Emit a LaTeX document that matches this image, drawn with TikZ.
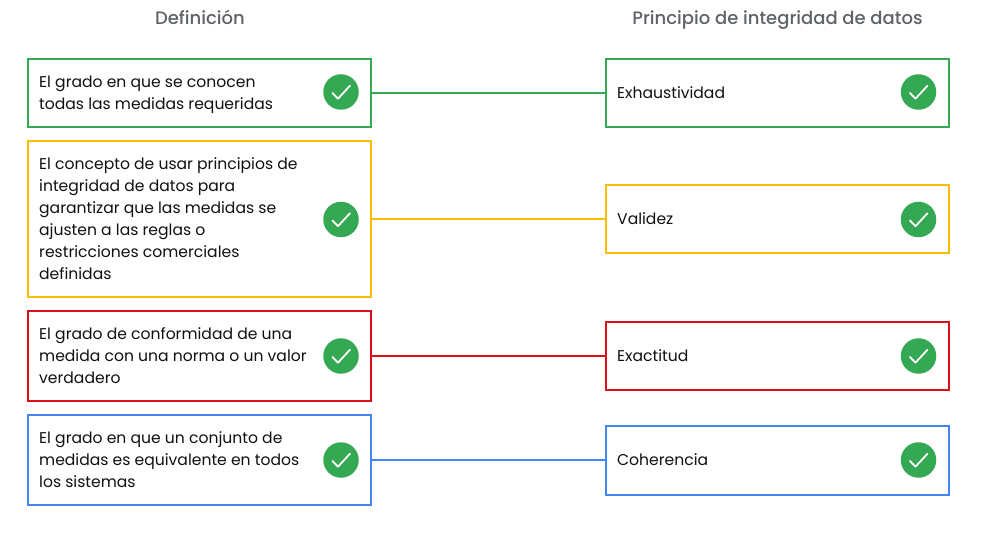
\documentclass[tikz,border=0pt]{standalone}
\usepackage{fontspec}
\setmainfont{Poppins}[BoldFont={Poppins Medium}]
\usetikzlibrary{calc}
\definecolor{cgreen}{HTML}{34A853}
\definecolor{cyellow}{HTML}{FBBC04}
\definecolor{cred}{HTML}{D9101C}
\definecolor{cblue}{HTML}{4285F4}
\definecolor{chead}{HTML}{5F6368}
\definecolor{ctext}{HTML}{111111}
\tikzset{
  x=1bp,y=-1bp,
  cardbox/.style={draw=#1,line width=1.6bp,fill=white,rectangle,inner sep=0pt,outer sep=0pt,anchor=north west},
  link/.style={draw=#1,line width=1.6bp},
  label/.style={anchor=west,align=left,inner sep=0pt,text=ctext,font=\fontsize{15.6bp}{22bp}\selectfont},
  head/.style={anchor=base,inner sep=0pt,text=chead,font=\fontsize{18bp}{20bp}\selectfont\bfseries},
  badge/.style={circle,fill=cgreen,minimum size=35.5bp,inner sep=0pt,outer sep=0pt},
  tick/.style={draw=white,line width=1.8bp,line cap=round,line join=round},
}
\newcommand{\card}[6]{% name, x, y, w, h, colour
  \node[cardbox=#6,minimum width=#4bp,minimum height=#5bp] (#1) at (#2,#3) {};
}
\newcommand{\checkbadge}[3]{% name,x,y
  \node[badge] (#1) at (#2,#3) {};
  \draw[tick] ($(#1.center)+(-8.5,1)$) -- ($(#1.center)+(-3,6.7)$) -- ($(#1.center)+(9,-6.3)$);
}
\begin{document}
\begin{tikzpicture}
\useasboundingbox (0,0) rectangle (992,539);
\fill[white] (0,0) rectangle (992,539);

\node[head] (h1) at (200,25) {Definición};
\node[head] (h2) at (777.5,25) {Principio de integridad de datos};

\card{a1}{28}{59}{343}{68}{cgreen}
\card{a2}{28}{141}{343}{156}{cyellow}
\card{a3}{28}{311}{343}{90}{cred}
\card{a4}{28}{415}{343}{90}{cblue}
\card{b1}{606}{59}{343}{68}{cgreen}
\card{b2}{606}{185}{343}{68}{cyellow}
\card{b3}{606}{322}{343}{68}{cred}
\card{b4}{606}{426}{343}{69}{cblue}

\path[link=cgreen] (a1.east) -- (b1.west);
\path[link=cyellow] (a2.east) -- (b2.west);
\path[link=cred] (a3.east) -- (b3.west);
\path[link=cblue] (a4.east) -- (a4.east -| b4.west);

\node[label] (ta1) at (39,94.5) {El grado en que se conocen\\todas las medidas requeridas};
\node[label] (ta2) at (39,219) {El concepto de usar principios de\\integridad de datos para\\garantizar que las medidas se\\ajusten a las reglas o\\restricciones comerciales\\definidas};
\node[label] (ta3) at (39,356) {El grado de conformidad de una\\medida con una norma o un valor\\verdadero};
\node[label] (ta4) at (39,460) {El grado en que un conjunto de\\medidas es equivalente en todos\\los sistemas};
\node[label] (tb1) at (617,93) {Exhaustividad};
\node[label] (tb2) at (617,219) {Validez};
\node[label] (tb3) at (617,356) {Exactitud};
\node[label] (tb4) at (617,460) {Coherencia};

\checkbadge{c1}{341}{92}
\checkbadge{c2}{341}{219.5}
\checkbadge{c3}{341}{356}
\checkbadge{c4}{341}{460}
\checkbadge{d1}{918.5}{92}
\checkbadge{d2}{918.5}{219.5}
\checkbadge{d3}{918.5}{356}
\checkbadge{d4}{918.5}{460}
\end{tikzpicture}
\end{document}
